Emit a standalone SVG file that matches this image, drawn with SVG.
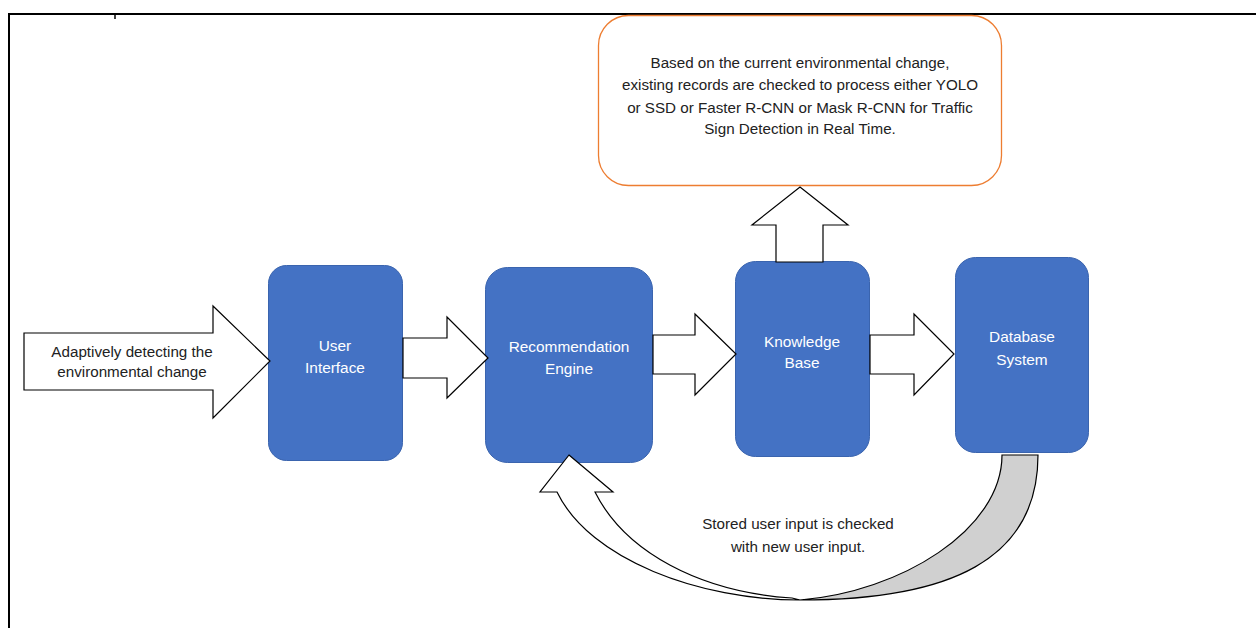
<svg xmlns="http://www.w3.org/2000/svg" width="1256" height="628" viewBox="0 0 1256 628">
<style>
.node{fill:#4472C4;stroke:#3A64AE;stroke-width:1}
.nt{font-family:"Liberation Sans",Arial,sans-serif;font-size:15.4px;fill:#ffffff;text-anchor:middle}
.bt{font-family:"Liberation Sans",Arial,sans-serif;font-size:15.2px;fill:#222222;text-anchor:middle}
.arr{fill:#ffffff;stroke:#000000;stroke-width:1.2;stroke-linejoin:miter}
</style>
<rect width="1256" height="628" fill="#ffffff"/>
<g id="frame" fill="none" stroke="#000" stroke-width="2">
<path d="M9,628 V14 H1256"/>
<path d="M115,14 V19" stroke-width="1.5"/>
</g>
<g id="callout">
<rect x="598.5" y="15.5" width="403" height="170" rx="30" fill="#ffffff" stroke="#ED7D31" stroke-width="1.3"/>
<text class="bt" x="800" y="68">Based on the current environmental change,</text>
<text class="bt" x="800" y="90">existing records are checked to process either YOLO</text>
<text class="bt" x="800" y="113">or SSD or Faster R-CNN or Mask R-CNN for Traffic</text>
<text class="bt" x="800" y="134">Sign Detection in Real Time.</text>
</g>
<g id="user-interface">
<rect class="node" x="268.5" y="265.5" width="134" height="195" rx="18"/>
<text class="nt" x="335" y="351">User</text>
<text class="nt" x="335" y="373">Interface</text>
</g>
<g id="recommendation-engine">
<rect class="node" x="485.5" y="267.5" width="167" height="195" rx="22"/>
<text class="nt" x="569" y="352">Recommendation</text>
<text class="nt" x="569" y="374">Engine</text>
</g>
<g id="knowledge-base">
<rect class="node" x="735.5" y="261.5" width="134" height="195" rx="20"/>
<text class="nt" x="802" y="347">Knowledge</text>
<text class="nt" x="802" y="368">Base</text>
</g>
<g id="database-system">
<rect class="node" x="955.5" y="257.5" width="133" height="195" rx="20"/>
<text class="nt" x="1022" y="342">Database</text>
<text class="nt" x="1022" y="365">System</text>
</g>
<g id="connectors">
<g id="input-arrow">
<polygon class="arr" points="24,333 213,333 213,306 270,361 213,418 213,390 24,390"/>
<text class="bt" x="132" y="357">Adaptively detecting the</text>
<text class="bt" x="132" y="377">environmental change</text>
</g>
<polygon class="arr" points="403,338 447,338 447,317 488,358 447,398 447,378 403,378"/>
<polygon class="arr" points="653,335 695,335 695,314 736,354 695,395 695,374 653,374"/>
<polygon class="arr" points="870,335 914,335 914,314 954,354 914,395 914,374 870,374"/>
<polygon class="arr" points="776,262 776,225 752,225 800,187 848,225 823,225 823,262"/>
<g id="feedback-arrow">
<path d="M1002,455 L1038,455 C1038,560 950,600 800,600 C900,592 1002,530 1002,455 Z" fill="#D0D0D0" stroke="#000" stroke-width="1.2"/>
<path d="M569,455 L613,492 L595,492 C625,552 700,592 792,598 L800,600 C700,600 590,560 557,492 L540,492 Z" class="arr"/>
<text class="bt" x="798" y="529">Stored user input is checked</text>
<text class="bt" x="798" y="552">with new user input.</text>
</g>
</g>
</svg>
